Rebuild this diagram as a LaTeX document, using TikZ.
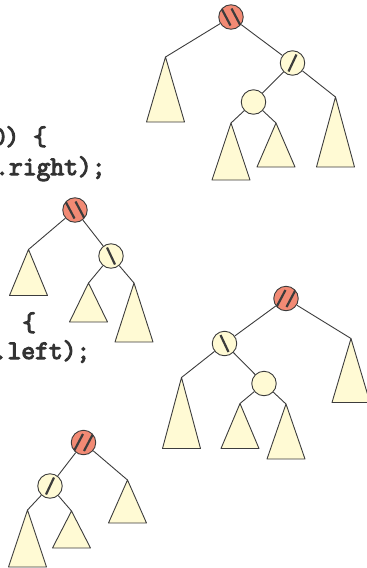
\documentclass[tikz,border=0pt]{standalone}
\usepackage{fontspec}
\newfontfamily\codefont[FakeBold=4]{Latin Modern Mono}
\usepackage{xcolor}

\definecolor{ink}{HTML}{3C3C3C}
\definecolor{hotfill}{HTML}{F28A74}
\definecolor{cream}{HTML}{FFFAD4}
\definecolor{codegray}{HTML}{333333}

\begin{document}
\begin{tikzpicture}[
    x=1pt, y=-1pt,
    vtx/.style={circle, draw=ink, line width=0.9pt, minimum size=24.5pt, inner sep=0pt},
    hot/.style={vtx, fill=hotfill},
    calm/.style={vtx, fill=cream},
    stroke/.style={line width=2.2pt, ink},
    back/.style={path picture={
        \draw[stroke] ([shift={(-4pt,8.5pt)}]path picture bounding box.center)
            -- ([shift={(4pt,-8.5pt)}]path picture bounding box.center);}},
    fwd/.style={path picture={
        \draw[stroke] ([shift={(-4pt,-8.5pt)}]path picture bounding box.center)
            -- ([shift={(4pt,8.5pt)}]path picture bounding box.center);}},
    dback/.style={path picture={
        \draw[stroke] ([shift={(-9.5pt,8.5pt)}]path picture bounding box.center)
            -- ([shift={(-0.5pt,-8.5pt)}]path picture bounding box.center);
        \draw[stroke] ([shift={(0.5pt,8.5pt)}]path picture bounding box.center)
            -- ([shift={(9.5pt,-8.5pt)}]path picture bounding box.center);}},
    dfwd/.style={path picture={
        \draw[stroke] ([shift={(-9.5pt,-8.5pt)}]path picture bounding box.center)
            -- ([shift={(-0.5pt,8.5pt)}]path picture bounding box.center);
        \draw[stroke] ([shift={(0.5pt,-8.5pt)}]path picture bounding box.center)
            -- ([shift={(9.5pt,8.5pt)}]path picture bounding box.center);}},
    link/.style={ink, line width=0.9pt},
    sub/.style={draw=ink, fill=cream, line width=0.9pt, line join=round},
    code/.style={anchor=base west, inner sep=0pt, text=codegray,
        font=\codefont\bfseries\fontsize{26.8}{30}\selectfont},
]
\useasboundingbox (0,0) rectangle (367,568);
\clip (0,0) rectangle (367,568);

% --- Code fragments on the left ---
\node[code] (ln1) at (-8.5,145) {0) \{};
\node[code] (ln2) at (-5,175) {.right);};
\node[code] (ln3) at (22,331) {\{};
\node[code] (ln4) at (-6.5,359) {.left);};

% --- Tree A: double rotation, start ---
\node[hot, dback] (A) at (231,17) {};
\node[calm, fwd] (A1) at (292.5,63) {};
\node[calm] (A2) at (253.5,102) {};

% --- Tree B: after rotating the right child ---
\node[hot, dback] (B) at (75,210) {};
\node[calm, back] (B1) at (111,256) {};

% --- Tree C ---
\node[hot, dfwd] (C) at (286,298.5) {};
\node[calm, back] (C1) at (224.5,343.5) {};
\node[calm] (C2) at (264,383.5) {};

% --- Tree D: after rotating the left child ---
\node[hot, dfwd] (D) at (83.5,442.5) {};
\node[calm, fwd] (D1) at (50,486) {};

% --- Subtrees (apex name / x / y / height) ---
\foreach \n/\x/\y/\h in {tA1/165.5/57/65, tA2/335.5/97/70, tA3/231/123/57, tA4/276/123/44,
                         tB1/28.5/249.5/46, tB2/88.5/283/39, tB3/134/283/59,
                         tC1/351/338.5/64, tC2/181.5/377.5/71, tC3/240/403.5/45, tC4/286/404/55,
                         tD1/127.5/480/43, tD2/27.5/510/57, tD3/71.5/511/37} {
    \coordinate (\n) at (\x,\y);
    \draw[sub] (\n) -- ++(-19,\h) -- ++(38,0) -- cycle;
}

% --- Connections ---
\foreach \a/\b in {A/tA1, A/A1, A1/A2, A1/tA2, A2/tA3, A2/tA4,
                   B/tB1, B/B1, B1/tB2, B1/tB3,
                   C/C1, C/tC1, C1/tC2, C1/C2, C2/tC3, C2/tC4,
                   D/D1, D/tD1, D1/tD2, D1/tD3} {
    \draw[link] (\a) -- (\b);
}

\end{tikzpicture}
\end{document}
